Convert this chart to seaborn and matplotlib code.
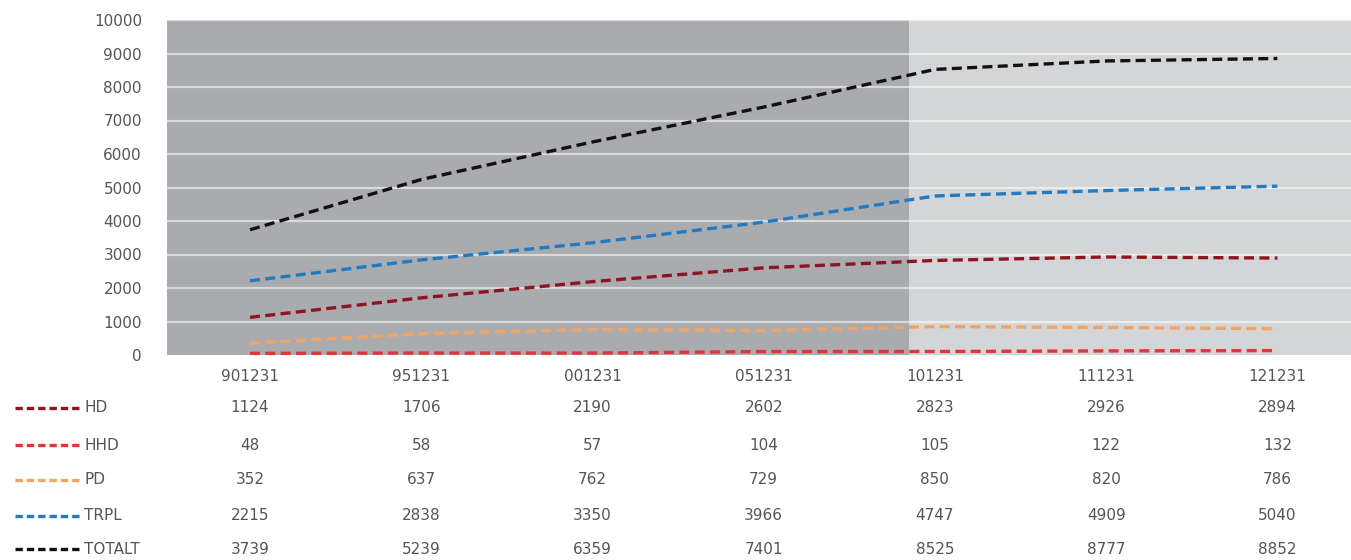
import pandas as pd
import matplotlib.pyplot as plt
import seaborn as sns
from matplotlib.lines import Line2D
from matplotlib.transforms import blended_transform_factory

dates = ['901231', '951231', '001231', '051231', '101231', '111231', '121231']
hd = [1124, 1706, 2190, 2602, 2823, 2926, 2894]
hhd = [48, 58, 57, 104, 105, 122, 132]
pd_vals = [352, 637, 762, 729, 850, 820, 786]
trpl = [2215, 2838, 3350, 3966, 4747, 4909, 5040]
totalt = [3739, 5239, 6359, 7401, 8525, 8777, 8852]

series_names = ['HD', 'HHD', 'PD', 'TRPL', 'TOTALT']
series_vals = [hd, hhd, pd_vals, trpl, totalt]
colors = ['#8e1520', '#e2353a', '#f2a464', '#1f7bc4', '#111111']

sns.set_style('white')
plt.rcParams['font.family'] = ['Liberation Sans Narrow', 'DejaVu Sans']

fig = plt.figure(figsize=(13.51, 5.6), dpi=100)
ax = fig.add_axes([167 / 1351, 1 - 355 / 560, 1184 / 1351, 335 / 560])
ax.set_facecolor('#d4d5d7')

# darker left block of the background
ax.axvspan(-0.5, 3.85, color='#a9abae', zorder=0, lw=0)
for v in range(1000, 10001, 1000):
    ax.axhline(v, color='white', alpha=0.55, lw=1.6, zorder=1)

x = list(range(len(dates)))
for name, vals, c in zip(series_names, series_vals, colors):
    df = pd.DataFrame({'x': x, 'y': vals})
    sns.lineplot(data=df, x='x', y='y', ax=ax, color=c, lw=2.4,
                 linestyle=(0, (3, 1.6)), zorder=3)

ax.set_xlim(-0.485, 6.43)
ax.set_ylim(0, 10000)
ax.set_yticks(range(0, 10001, 1000))
ax.set_xticks(x)
ax.set_xticklabels(dates)
ax.tick_params(axis='both', length=0, colors='#555555', labelsize=11)
ax.tick_params(axis='x', pad=10)
ax.tick_params(axis='y', pad=18)
ax.set_xlabel('')
ax.set_ylabel('')
for s in ax.spines.values():
    s.set_visible(False)

# data table under the chart
trans = blended_transform_factory(ax.transData, fig.transFigure)
row_y = [408, 445, 480, 516, 549]
for ry, name, vals, c in zip(row_y, series_names, series_vals, colors):
    fy = 1 - ry / 560
    fig.add_artist(Line2D([15 / 1351, 80 / 1351], [fy, fy], color=c, lw=2.4,
                          linestyle=(0, (2.2, 1.2))))
    fig.text(84 / 1351, fy, name, ha='left', va='center', fontsize=11, color='#555555')
    for xi, v in zip(x, vals):
        ax.text(xi, fy, str(v), transform=trans, ha='center', va='center',
                fontsize=11, color='#555555', clip_on=False)

fig.savefig('out.png', dpi=100)
